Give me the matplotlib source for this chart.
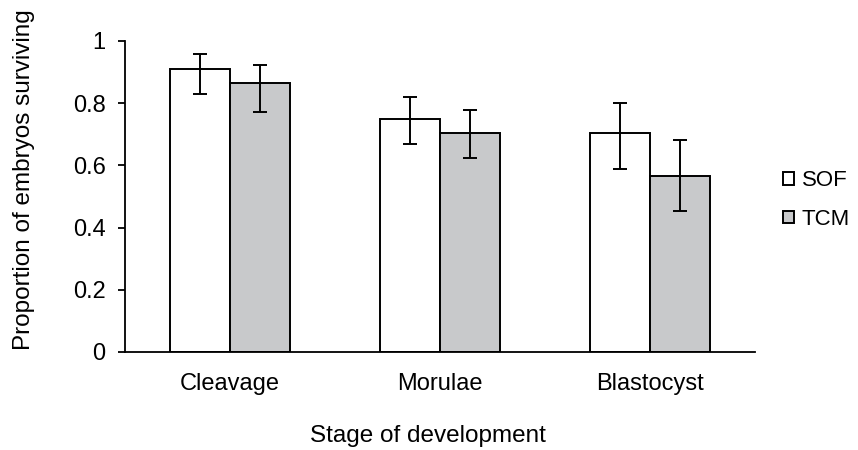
import matplotlib.pyplot as plt
import numpy as np

plt.rcParams['font.family'] = ['Liberation Sans', 'DejaVu Sans']

stages = ["Cleavage", "Morulae", "Blastocyst"]
sof = [0.910, 0.750, 0.705]
sof_hi = [0.957, 0.819, 0.801]
sof_lo = [0.830, 0.670, 0.589]
tcm = [0.866, 0.705, 0.567]
tcm_hi = [0.923, 0.778, 0.681]
tcm_lo = [0.773, 0.624, 0.453]

x = np.arange(len(stages))
w = 0.285
fs = 17

fig = plt.figure(figsize=(8.58, 4.5), dpi=100)
ax = fig.add_axes([0.1457, 0.2178, 0.7343, 0.6911])

sof_err = [np.array(sof) - np.array(sof_lo), np.array(sof_hi) - np.array(sof)]
tcm_err = [np.array(tcm) - np.array(tcm_lo), np.array(tcm_hi) - np.array(tcm)]

ax.bar(x - w / 2, sof, w, color="white", edgecolor="black", linewidth=1.4, label="SOF")
ax.bar(x + w / 2, tcm, w, color="#c8c9cb", edgecolor="black", linewidth=1.4, label="TCM")
ax.errorbar(x - w / 2, sof, yerr=sof_err, fmt="none", ecolor="black", elinewidth=1.4, capsize=4.7, capthick=1.4)
ax.errorbar(x + w / 2, tcm, yerr=tcm_err, fmt="none", ecolor="black", elinewidth=1.4, capsize=4.7, capthick=1.4)

ax.set_xlim(-0.5, 2.5)
ax.set_ylim(0, 1)
ax.set_yticks([0, 0.2, 0.4, 0.6, 0.8, 1])
ax.set_yticklabels(["0", "0.2", "0.4", "0.6", "0.8", "1"])
ax.set_xticks(x)
ax.set_xticklabels(stages)
ax.tick_params(axis="x", length=0, pad=15, labelsize=fs)
ax.tick_params(axis="y", length=5, width=1.3, pad=9, labelsize=fs)
for s in ["top", "right"]:
    ax.spines[s].set_visible(False)
for s in ["left", "bottom"]:
    ax.spines[s].set_linewidth(1.3)

ax.set_xlabel("Stage of development", fontsize=17.5)
ax.set_ylabel("Proportion of embryos surviving", fontsize=17.5)
ax.xaxis.set_label_coords(0.481, -0.235)
ax.yaxis.set_label_coords(-0.143, 0.553)

fig.legend(*ax.get_legend_handles_labels(), loc="center left",
           bbox_to_anchor=(783 / 858, (450 - 200) / 450), frameon=False,
           borderpad=0, borderaxespad=0,
           handlelength=0.5, handleheight=0.5, handletextpad=0.35,
           labelspacing=0.8, fontsize=16)

fig.savefig("out.png", dpi=100)
